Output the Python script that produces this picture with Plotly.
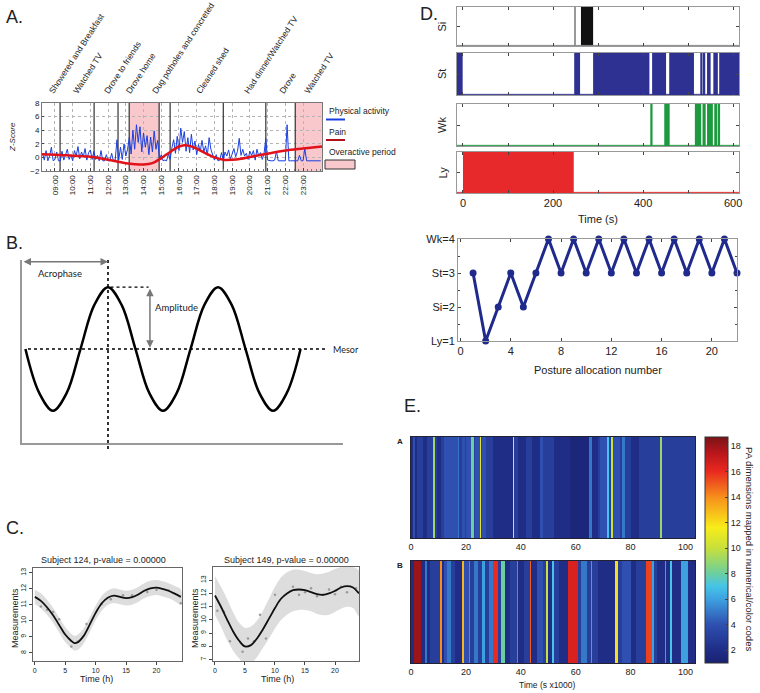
import plotly.graph_objects as go

W, H = 760, 693
def PX(x): return x / W
def PY(y): return 1 - y / H

FONT = "Liberation Sans, Arial, sans-serif"

# ---------------- Panel A data ----------------
hour_ticks = list(range(9, 24))
hour_labels = [f"{h:02d}:00" for h in hour_ticks]
event_names = ["Showered and Breakfast", "Watched TV", "Drove to friends", "Drove home",
               "Dug potholes and concreted", "Cleaned shed", "Had dinner/Watched TV", "Drove", "Watched TV"]
event_label_hours = [8.72, 10.08, 11.83, 13.07, 14.54, 17.03, 19.74, 21.72, 23.13]
event_boundaries = [9.29, 11.21, 12.56, 13.19, 14.88, 15.5, 18.5, 20.9, 22.56]
overactive_start = [13.19, 22.56]
overactive_end = [14.88, 24.07]
activity_start, activity_step = 8.3, 0.1
activity = [
    0.6, -0.4, 1.0, -0.5, 0.2, 1.5, -0.5, -0.3, 0.8, -0.5,
    -0.5, 0.9, -0.4, 0.3, 1.2, -0.3, 0.4, -0.5, 1.0, 0.2,
    1.6, -0.2, 0.8, 0.1, 1.3, -0.4, 0.7, 1.1, -0.3, 0.9,
    -0.3, 0.3, -0.5, 1.0, -0.5, -0.5, 0.4, -0.5, -0.5, 0.6,
    -0.5, -0.4, 2.6, -0.4, 1.5, -0.3, 2.0, 0.2, 1.2, 3.0,
    0.5, 4.0, 1.2, 4.8, 2.2, 4.5, 0.8, 3.6, 1.5, 3.2,
    0.4, 3.0, 0.8, 3.9, 1.2, 2.5, -0.3, 0.4, -0.5, -0.4,
    -0.5, 0.5, -0.3, 1.4, 2.6, 0.6, 3.1, 1.0, 4.3, 2.2,
    3.8, 0.9, 2.9, 0.7, 3.4, 1.1, 2.4, 0.4, 1.9, 0.9,
    2.5, 0.8, 1.7, 0.3, 2.9, 1.2, 0.2, -0.4, 0.4, -0.5,
    -0.4, 0.7, -0.4, 0.8, 0.2, 1.1, -0.3, 0.6, 1.3, 0.1,
    0.9, 2.8, 0.3, 1.2, 0.2, 0.6, -0.3, 0.9, 0.3, 1.0,
    -0.4, 1.2, 0.2, 0.7, -0.3, 0.6, 2.8, -0.4, -0.5, -0.5,
    -0.5, -0.4, 0.9, -0.5, -0.5, -0.5, -0.5, -0.5, 4.8, -0.5,
    -0.5, -0.5, -0.5, -0.5, -0.5, 0.3, -0.5, -0.5, 1.3, -0.5,
    -0.5, -0.5, -0.5, -0.5, -0.5, -0.5, -0.5, -0.5]
pain_hours = [8.27, 9, 10, 11, 12, 12.5, 13, 13.5, 14, 14.5, 15, 15.5, 16, 16.3, 16.6, 17,
              17.5, 18, 18.5, 19, 19.5, 20, 21, 22, 23, 24.07]
pain = [0.45, 0.4, 0.25, 0.1, -0.35, -0.6, -0.85, -1.0, -1.05, -0.85, -0.1, 0.8, 1.6, 1.8, 1.7,
        1.3, 0.6, 0.0, -0.35, -0.35, -0.2, 0.05, 0.55, 1.0, 1.3, 1.6]

# ---------------- Panel B data (cosinor schematic) ----------------
wave_x = [0.75, 3.75, 6.75, 9.75, 12.75, 15.75, 18.75, 21.75, 24.75, 27.75, 30.75, 33.75,
          36.75, 39.75, 42.75, 45.75, 48.75, 51.75, 54.75, 57.75, 60.75]
wave_y = [0, -0.71, -1, -0.71, 0, 0.71, 1, 0.71, 0, -0.71, -1, -0.71,
          0, 0.71, 1, 0.71, 0, -0.71, -1, -0.71, 0]
acrophase = 18.75
amplitude = 1.0
mesor = 0.0

# ---------------- Panel C data ----------------
c1_hours = [0, 1, 2, 3, 4, 5, 6, 6.5, 7, 8, 9, 10, 11, 12, 13, 14, 15, 16, 17, 18, 19, 20, 21, 22, 23, 24]
c1_fit = [11.5, 11.25, 10.85, 10.35, 9.75, 9.15, 8.75, 8.62, 8.65, 9.05, 9.75, 10.5, 11.1, 11.45,
          11.58, 11.5, 11.42, 11.48, 11.65, 11.88, 12.03, 12.08, 12.0, 11.88, 11.7, 11.5]
c1_upper = [11.95, 11.72, 11.32, 10.82, 10.22, 9.62, 9.2, 9.08, 9.12, 9.52, 10.22, 10.96, 11.56, 11.9,
            12.04, 11.96, 11.88, 11.95, 12.12, 12.35, 12.5, 12.55, 12.47, 12.35, 12.17, 11.97]
c1_lower = [11.05, 10.78, 10.38, 9.88, 9.28, 8.68, 8.3, 8.16, 8.18, 8.58, 9.28, 10.04, 10.64, 11.0,
            11.12, 11.04, 10.96, 11.01, 11.18, 11.41, 11.56, 11.61, 11.53, 11.41, 11.23, 11.03]
c1_pts_x = [1, 2, 3, 4, 6, 7, 8.5, 11, 12.5, 14.5, 16, 18.5, 20, 22, 24]
c1_pts_y = [10.9, 10.7, 10.55, 10.1, 8.4, 8.7, 9.8, 11.05, 11.35, 11.6, 11.6, 11.8, 11.95, 11.9, 11.1]

c2_hours = list(range(0, 25))
c2_fit = [11.85, 11.0, 10.05, 9.15, 8.45, 8.0, 8.1, 8.6, 9.3, 10.1, 10.9, 11.6, 12.0, 12.25, 12.3,
          12.25, 12.1, 11.95, 11.9, 12.0, 12.2, 12.45, 12.55, 12.45, 12.0]
c2_upper = [13.3, 12.5, 11.6, 10.6, 9.8, 9.4, 9.5, 9.95, 10.7, 11.6, 12.5, 13.2, 13.6, 13.8, 13.8,
            13.7, 13.55, 13.45, 13.5, 13.65, 13.85, 14.0, 14.1, 14.0, 13.7]
c2_lower = [10.4, 9.5, 8.5, 7.7, 7.1, 6.6, 6.7, 7.2, 7.9, 8.6, 9.35, 10.0, 10.4, 10.65, 10.75,
            10.75, 10.65, 10.45, 10.35, 10.4, 10.6, 10.85, 11.0, 10.9, 10.3]
c2_pts_x = [0.4, 1.5, 2.5, 4.6, 5.5, 6.5, 7.5, 8.5, 10, 13, 14, 15, 16, 17, 18, 19, 20, 21, 22, 23.5]
c2_pts_y = [10.7, 10.6, 8.4, 7.6, 8.6, 8.4, 10.4, 8.6, 11.9, 12.5, 11.9, 12.1, 12.4, 11.8, 11.9,
            12.3, 11.95, 12.5, 12.1, 12.4]

# ---------------- Panel D data ----------------
strip_names = ["Si", "St", "Wk", "Ly"]
strip_colors = ["#111111", "#2e3192", "#1d9a3f", "#e8292c"]
si_segments = [(248.5, 250.5), (262, 289)]
st_segments = [(-13.3, -0.7), (247, 260), (289, 414), (420, 451), (458, 513), (527, 532),
               (535, 538), (542, 550), (556, 566), (569, 613)]
wk_segments = [(416, 421), (447, 459), (515, 529), (532, 539), (542, 555), (558, 565), (567, 571)]
ly_segments = [(0, 246)]
strip_segments = [si_segments, st_segments, wk_segments, ly_segments]

posture_number = list(range(1, 23))
posture_code = [3, 1, 2, 3, 2, 3, 4, 3, 4, 3, 4, 3, 4, 3, 4, 3, 4, 3, 4, 3, 4, 3]
posture_labels = ["Ly=1", "Si=2", "St=3", "Wk=4"]

# ---------------- Panel E data ----------------
edgesA = [0, 0.8, 1.4, 2.2, 4.5, 6.0, 8.0, 8.6, 9.5, 11.0, 12.0, 17.0, 17.6, 18.7, 19.5, 20.0,
          22.0, 22.8, 23.5, 25.0, 25.4, 26.0, 27.5, 30.0, 37.0, 37.6, 39.0, 42.0, 44.0, 47.0,
          48.0, 52.0, 58.0, 65.0, 65.8, 68.0, 69.0, 71.5, 72.2, 73.0, 73.6, 76.0, 77.0, 78.0,
          80.0, 83.0, 90.8, 91.4, 103.5]
valuesA = [2, 4, 2, 3, 2, 3, 9, 3, 2, 3, 4, 5, 3, 4, 3, 4, 8, 3, 4, 11, 3, 4, 3, 2, 11, 3, 2, 3,
           2, 4, 3, 2, 1.5, 5, 2, 3, 4, 7, 3, 10, 4, 3, 5, 3, 2, 3, 9, 3]
edgesB = [0, 1.0, 3.6, 5.0, 6.0, 7.0, 10.5, 11.2, 12.0, 13.0, 14.5, 16.0, 18.5, 19.2, 21.0, 21.6,
          23.0, 24.5, 26.0, 27.0, 28.5, 29.8, 31.8, 32.8, 34.4, 36.0, 38.5, 39.1, 41.0, 43.3,
          43.9, 46.0, 48.0, 49.3, 49.9, 51.3, 52.0, 54.0, 57.3, 60.7, 62.0, 64.0, 65.5, 66.0,
          68.0, 74.3, 75.3, 77.0, 80.0, 82.0, 85.8, 87.8, 88.6, 89.5, 92.5, 93.0, 94.5, 95.0,
          98.5, 100.8, 103.5]
valuesB = [2, 18, 2, 5, 2, 3, 14, 2, 4, 5, 3, 2, 13, 4, 15, 3, 5, 3, 6, 3, 5, 16, 3, 8, 2, 3, 15,
           2, 3, 15, 2, 4, 3, 10, 2, 7, 3, 2, 16.5, 3, 5, 3, 6, 3, 2, 12, 3, 4, 2, 3, 15.5, 6, 3,
           2, 6, 2, 7, 2, 6, 2]
cbar_ticks = [2, 4, 6, 8, 10, 12, 14, 16, 18]
jet_like = [[0.0, "#1a2170"], [0.06, "#1f2e88"], [0.17, "#2f50b0"], [0.28, "#3d9fe0"],
            [0.34, "#45c4e8"], [0.40, "#6fcf9a"], [0.51, "#c8e03a"], [0.60, "#f8ec1a"],
            [0.73, "#f7921c"], [0.85, "#e8281f"], [0.93, "#b8161c"], [1.0, "#7a1416"]]

# ======================================================
fig = go.Figure()
shapes, annos = [], []

def box(**kw):
    d = dict(showline=True, mirror=True, linecolor="#888", linewidth=1, showgrid=False,
             zeroline=False, ticks="", showticklabels=False, fixedrange=True, automargin=False)
    d.update(kw)
    return d

def note(x, y, text, size=9, **kw):
    d = dict(xref="paper", yref="paper", x=PX(x), y=PY(y), text=text, showarrow=False,
             xanchor="center", yanchor="middle", font=dict(size=size, color="#222"))
    d.update(kw)
    annos.append(d)

# ---- Panel A ----
act_hours = [activity_start + i * activity_step for i in range(len(activity))]
fig.add_trace(go.Scatter(x=act_hours, y=activity, mode="lines", line=dict(color="#1a3fe0", width=1),
                         xaxis="x", yaxis="y"))
fig.add_trace(go.Scatter(x=pain_hours, y=pain, mode="lines",
                         line=dict(color="#e3121a", width=2.5, shape="spline"), xaxis="x", yaxis="y"))
fig.add_trace(go.Scatter(x=[None], y=[None], xaxis="x12", yaxis="y"))
for s, e in zip(overactive_start, overactive_end):
    shapes.append(dict(type="rect", xref="x", yref="y", x0=s, x1=e, y0=-2, y1=8,
                       fillcolor="#f8c8cc", line=dict(width=0), layer="below"))
for b in event_boundaries:
    shapes.append(dict(type="line", xref="x", yref="y", x0=b, x1=b, y0=-2, y1=8,
                       line=dict(color="#333", width=1.2), layer="between"))
note(327, 111, "Physical activity", 8.5, xanchor="left")
note(327, 132, "Pain", 8.5, xanchor="left")
note(327, 152, "Overactive period", 8.5, xanchor="left")
shapes += [
    dict(type="line", xref="paper", yref="paper", x0=PX(326), x1=PX(345), y0=PY(119.5), y1=PY(119.5),
         line=dict(color="#1a3fe0", width=2)),
    dict(type="line", xref="paper", yref="paper", x0=PX(326), x1=PX(345), y0=PY(140), y1=PY(140),
         line=dict(color="#b0101a", width=2)),
    dict(type="rect", xref="paper", yref="paper", x0=PX(325), x1=PX(355), y0=PY(169), y1=PY(160),
         fillcolor="#f8c8cc", line=dict(color="#333", width=1)),
]
note(12, 137, "<i>Z-Score</i>", 8, textangle=-90)

# ---- Panel B ----
fig.add_trace(go.Scatter(x=wave_x, y=wave_y, mode="lines",
                         line=dict(color="black", width=2.5, shape="spline"), xaxis="x2", yaxis="y2"))
shapes += [
    dict(type="line", xref="x2", yref="y2", x0=1.3, x1=66.7, y0=mesor, y1=mesor,
         line=dict(color="black", width=1.6, dash="dot")),
    dict(type="line", xref="x2", yref="paper", x0=acrophase, x1=acrophase, y0=PY(449), y1=PY(260),
         line=dict(color="black", width=1.6, dash="dot")),
    dict(type="line", xref="x2", yref="y2", x0=19.3, x1=27.6, y0=amplitude, y1=amplitude,
         line=dict(color="black", width=1.2, dash="dot")),
]
annos += [
    dict(xref="x2", yref="y2", x=acrophase, y=1.41, ax=0, ay=1.41, axref="x2", ayref="y2",
         showarrow=True, arrowside="end+start", arrowhead=2, arrowsize=1, arrowwidth=1.5,
         arrowcolor="#777", text=""),
    dict(xref="x2", yref="y2", x=27.9, y=mesor + 0.02, ax=27.9, ay=amplitude, axref="x2", ayref="y2",
         showarrow=True, arrowside="end+start", arrowhead=2, arrowsize=1, arrowwidth=1.5,
         arrowcolor="#777", text=""),
]
BF = "Lato, sans-serif"
note(60, 273, "Acrophase", 9.5, font=dict(size=9.5, family=BF, color="#222"))
note(153, 307, "Amplitude", 9.5, xanchor="left", font=dict(size=9.5, family=BF, color="#222"))
note(331, 349, "Mesor", 9, xanchor="left", font=dict(size=9, family=BF, color="#222"))

# ---- Panel C ----
def cosinor(xax, yax, hrs, fit, up, lo, px_, py_):
    fig.add_trace(go.Scatter(x=hrs + hrs[::-1], y=up + lo[::-1], fill="toself", mode="lines",
                             line=dict(width=0, shape="spline"), fillcolor="#dddddd",
                             xaxis=xax, yaxis=yax))
    fig.add_trace(go.Scatter(x=px_, y=py_, mode="markers", marker=dict(size=2.5, color="#999"),
                             xaxis=xax, yaxis=yax))
    fig.add_trace(go.Scatter(x=hrs, y=fit, mode="lines", line=dict(color="#111", width=1.8, shape="spline"),
                             xaxis=xax, yaxis=yax))

cosinor("x3", "y3", c1_hours, c1_fit, c1_upper, c1_lower, c1_pts_x, c1_pts_y)
cosinor("x4", "y4", c2_hours, c2_fit, c2_upper, c2_lower, c2_pts_x, c2_pts_y)
note(103, 560, "Subject 124, p-value = 0.00000", 9)
note(286, 560, "Subject 149, p-value = 0.00000", 9)
for mx, tx in [(15, 96), (195, 277)]:
    note(mx, 618, "Measurements", 9, textangle=-90)
    note(tx, 679, "Time (h)", 9)

# ---- Panel D strips ----
for i, (segs, col) in enumerate(zip(strip_segments, strip_colors)):
    xa, ya = f"x{5+i}", f"y{5+i}"
    cols = ["#999999" if (i == 0 and e - s < 3) else col for (s, e) in segs]
    fig.add_trace(go.Bar(x=[(s + e) / 2 for s, e in segs], y=[1] * len(segs), base=0,
                         width=[e - s for s, e in segs], marker=dict(color=cols, line=dict(width=0)),
                         xaxis=xa, yaxis=ya))
    fig.add_trace(go.Scatter(x=[-13.3, 613], y=[0.015, 0.015], mode="lines",
                             line=dict(color=col if i else "#888", width=1), xaxis=xa, yaxis=ya))
    cy = [26.5, 74, 125, 172.5][i]
    note(442, cy, strip_names[i], 11, textangle=-90)
note(598, 219, "Time (s)", 11)

# ---- Panel D posture sequence ----
fig.add_trace(go.Scatter(x=posture_number, y=posture_code, mode="lines+markers",
                         line=dict(color="#1f2a8c", width=3), marker=dict(size=7, color="#1f2a8c"),
                         cliponaxis=False, xaxis="x9", yaxis="y9"))
note(598, 370, "Posture allocation number", 11)

# ---- Panel E ----
fig.add_trace(go.Heatmap(z=[valuesA], x=edgesA, y=[0, 1], coloraxis="coloraxis", xaxis="x10", yaxis="y10"))
fig.add_trace(go.Heatmap(z=[valuesB], x=edgesB, y=[0, 1], coloraxis="coloraxis", xaxis="x11", yaxis="y11"))
note(400, 441, "<b>A</b>", 8)
note(400, 565, "<b>B</b>", 8)
note(547, 685, "Time (s x1000)", 8.5)
note(750, 549, "PA dimensions mapped in numerical/color codes", 9.5, textangle=90)

# ---- Panel letters ----
for t, x, y in [("A.", 4, 17), ("B.", 4, 243), ("C.", 4, 528), ("D.", 418, 14), ("E.", 402, 406)]:
    note(x, y, t, 18, xanchor="left")

strip_doms = [(7, 46), (53, 95), (104, 146), (152, 193)]
layout = dict(
    width=W, height=H, margin=dict(l=0, r=0, t=0, b=0, autoexpand=False),
    paper_bgcolor="white", plot_bgcolor="white",
    showlegend=False, barmode="overlay", font=dict(family=FONT, color="#222"),
    xaxis=box(domain=[PX(42), PX(322)], anchor="y", range=[8.27, 24.07], tickmode="array",
              tickvals=hour_ticks, ticktext=hour_labels, tickangle=-90, showticklabels=True,
              tickfont=dict(size=8), showgrid=True, gridcolor="#b5b5b5", griddash="dot",
              ticks="inside", ticklen=3, linecolor="#777",
              minor=dict(dtick=0.25, tick0=0, ticks="inside", ticklen=2, tickcolor="#777", showgrid=False)),
    yaxis=box(domain=[PY(171), PY(103)], anchor="x", range=[-2, 8], tickvals=[-2, 0, 2, 4, 6, 8],
              showticklabels=True, tickfont=dict(size=8), showgrid=True, gridcolor="#b5b5b5",
              griddash="dot", linecolor="#777", ticks="inside", ticklen=2),
    xaxis12=dict(overlaying="x", side="top", anchor="y", range=[8.27, 24.07], tickmode="array",
                 tickvals=event_label_hours, ticktext=event_names, tickangle=-57, showgrid=False,
                 showline=False, zeroline=False, ticks="", tickfont=dict(size=8.5), ticklabelstandoff=4,
                 automargin=False),
    xaxis2=dict(domain=[PX(22), PX(343)], anchor="y2", range=[0, 70], showline=True, linecolor="#999",
                linewidth=1.5, showgrid=False, zeroline=False, ticks="", showticklabels=False, automargin=False),
    yaxis2=dict(domain=[PY(443), PY(260)], anchor="x2", range=[-1.52, 1.44], showline=True,
                linecolor="#999", linewidth=1.5, showgrid=False, zeroline=False, ticks="",
                showticklabels=False, automargin=False),
    xaxis3=box(domain=[PX(33), PX(182)], anchor="y3", range=[-0.3, 24.2], tickvals=[0, 5, 10, 15, 20],
               showticklabels=True, tickfont=dict(size=7), ticks="outside", ticklen=3, linecolor="#666"),
    yaxis3=box(domain=[PY(661), PY(568)], anchor="x3", range=[7.5, 13.3], tickvals=[8, 9, 10, 11, 12, 13],
               showticklabels=True, tickfont=dict(size=7), tickangle=-90, ticks="outside", ticklen=3,
               linecolor="#666"),
    xaxis4=box(domain=[PX(213), PX(359)], anchor="y4", range=[-0.33, 24.0], tickvals=[0, 5, 10, 15, 20],
               showticklabels=True, tickfont=dict(size=7), ticks="outside", ticklen=3, linecolor="#666"),
    yaxis4=box(domain=[PY(661), PY(567)], anchor="x4", range=[6.9, 14.0],
               tickvals=[7, 8, 9, 10, 11, 12, 13], showticklabels=True, tickfont=dict(size=7),
               tickangle=-90, ticks="outside", ticklen=3, linecolor="#666"),
    xaxis9=box(domain=[PX(458), PX(737)], anchor="y9", range=[-0.2, 22], tickvals=[0, 4, 8, 12, 16, 20],
               showticklabels=True, tickfont=dict(size=11), ticks="inside", ticklen=3, mirror="ticks",
               linecolor="#999"),
    yaxis9=box(domain=[PY(341), PY(239)], anchor="x9", range=[1, 4], tickvals=[1, 2, 3, 4],
               ticktext=posture_labels, showticklabels=True, tickfont=dict(size=11), ticks="inside",
               ticklen=3, mirror="ticks", linecolor="#999",
               minor=dict(dtick=0.5, ticks="inside", ticklen=2)),
    xaxis10=box(domain=[PX(411), PX(695)], anchor="y10", range=[0, 103.5], tickvals=[0, 20, 40, 60, 80, 100],
                showticklabels=True, tickfont=dict(size=9), linecolor="#223"),
    yaxis10=box(domain=[PY(538), PY(437)], anchor="x10", range=[0, 1], linecolor="#223"),
    xaxis11=box(domain=[PX(411), PX(695)], anchor="y11", range=[0, 103.5], tickvals=[0, 20, 40, 60, 80, 100],
                showticklabels=True, tickfont=dict(size=9), linecolor="#223"),
    yaxis11=box(domain=[PY(663), PY(561)], anchor="x11", range=[0, 1], linecolor="#223"),
    coloraxis=dict(colorscale=jet_like, cmin=1, cmax=18.7,
                   colorbar=dict(x=PX(705), xanchor="left", y=PY(437), yanchor="top",
                                 len=(663 - 437) / H, lenmode="fraction", thickness=23,
                                 thicknessmode="pixels", outlinewidth=1, outlinecolor="#333",
                                 tickvals=cbar_ticks, ticks="inside", ticklen=3,
                                 tickfont=dict(size=9), xpad=0, ypad=0)),
)
for i, (t, b) in enumerate(strip_doms):
    n = 5 + i
    layout[f"xaxis{n}"] = box(domain=[PX(457), PX(739)], anchor=f"y{n}", range=[-13.3, 613],
                              tickvals=[0, 200, 400, 600], showticklabels=(i == 3),
                              tickfont=dict(size=11), ticks="inside", ticklen=3, mirror="ticks",
                              linecolor="#999", minor=dict(dtick=100, tick0=0, ticks="inside", ticklen=3))
    layout[f"yaxis{n}"] = box(domain=[PY(b), PY(t)], anchor=f"x{n}", range=[0, 1], tickvals=[0.5],
                              ticks="inside", ticklen=3, mirror="ticks", linecolor="#999")
layout["shapes"] = shapes
layout["annotations"] = annos
fig.update_layout(**layout)
fig.update_traces(hoverinfo="skip")
fig.write_html("out.html")
